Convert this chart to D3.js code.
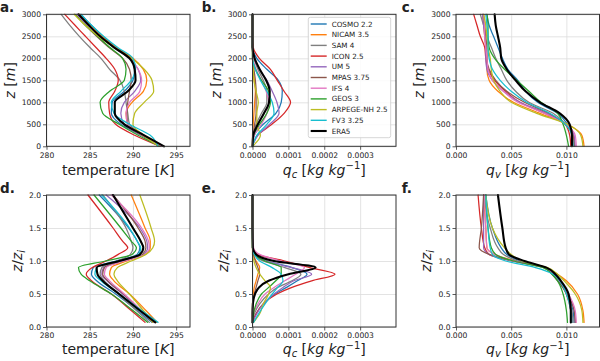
<!DOCTYPE html>
<html><head><meta charset="utf-8">
<script src="https://cdn.jsdelivr.net/npm/d3@7"></script>
<style>body{margin:0;background:#fff}svg{display:block}text{font-family:"DejaVu Sans",sans-serif;fill:#222}</style>
</head><body><svg id="c" width="600" height="361"></svg>
<script>
// ---------- data ----------
const models = ["COSMO 2.2","NICAM 3.5","SAM 4","ICON 2.5","UM 5","MPAS 3.75","IFS 4","GEOS 3","ARPEGE-NH 2.5","FV3 3.25","ERA5"];
const colors = ["#1f77b4","#ff7f0e","#7f7f7f","#d62728","#9467bd","#8c564b","#e377c2","#2ca02c","#bcbd22","#17becf","#000000"];

const zLevels = [0,250,500,750,1000,1250,1500,1750,2000,2250,2500,2750,3000];
const tempTicks = [280,285,290,295];
const qcTicks = [0,0.0001,0.0002,0.0003];
const qvTicks = [0,0.005,0.01];
const zTicks = [0,500,1000,1500,2000,2500,3000];
const ziTicks = [0,0.5,1,1.5,2];

// a. temperature [K] vs z [m]
const tempZ = [
 [293.5,291.0,288.6,287.5,287.6,289.0,290.0,290.2,289.8,288.0,286.5,285.2,284.0],
 [293.4,291.2,289.4,289.2,289.9,291.2,291.6,291.2,290.0,288.0,286.4,285.0,283.8],
 [293.0,291.3,289.6,289.4,289.2,289.0,288.5,287.3,286.3,285.0,283.8,282.7,281.7],
 [293.1,290.2,288.0,287.3,287.2,287.9,288.3,287.9,286.9,285.7,284.5,283.3,282.1],
 [293.2,291.0,289.0,288.6,289.0,290.2,290.9,290.6,289.6,287.8,286.2,284.8,283.5],
 [293.2,291.0,289.4,289.3,289.4,289.6,289.8,289.6,288.8,287.2,285.8,284.5,283.3],
 [293.3,291.1,289.4,289.2,289.6,290.8,291.0,290.6,289.6,287.8,286.2,284.9,283.6],
 [293.1,290.6,288.4,286.5,286.2,287.3,289.0,289.2,288.8,287.3,285.9,284.5,283.3],
 [293.0,291.2,290.0,290.2,291.3,292.4,292.2,291.3,289.8,287.8,286.0,284.5,283.2],
 [292.9,292.0,289.6,287.8,287.5,288.6,289.8,290.3,290.0,288.2,286.6,285.2,284.0],
 [293.6,291.3,289.0,287.9,287.9,289.4,290.3,290.2,289.6,287.8,286.2,284.9,283.7]
];
// b. qc [kg/kg] vs z [m]
const qcZ = [
 [0,0.5e-5,3e-5,6.5e-5,8e-5,8.3e-5,7.2e-5,4e-5,1.2e-5,0,0,0,0],
 [0,0,0.2e-5,0.4e-5,0.6e-5,0.8e-5,0.5e-5,0.2e-5,0,0,0,0,0],
 [0,0.2e-5,1e-5,2.5e-5,4e-5,4e-5,3e-5,1.5e-5,0.4e-5,0,0,0,0],
 [0,1.4e-5,5.4e-5,8.8e-5,10.6e-5,8.8e-5,6.9e-5,5e-5,1.9e-5,0.2e-5,0,0,0],
 [0,1.5e-5,4.8e-5,7.4e-5,6.8e-5,5.5e-5,4e-5,2e-5,0.5e-5,0,0,0,0],
 [0,0.2e-5,0.6e-5,1e-5,1e-5,1e-5,0.8e-5,0.4e-5,0.1e-5,0,0,0,0],
 [0,0.5e-5,2.5e-5,4e-5,4.5e-5,3.8e-5,2.5e-5,1e-5,0.2e-5,0,0,0,0],
 [0,0.3e-5,2e-5,4e-5,5e-5,4.5e-5,2.5e-5,0.8e-5,0,0,0,0,0],
 [0,2.2e-5,1.2e-5,1.2e-5,1.6e-5,1e-5,0.4e-5,0.2e-5,0,0,0,0,0],
 [0,1.2e-5,4e-5,6e-5,5.5e-5,4e-5,2.2e-5,0.8e-5,0,0,0,0,0],
 [0,0.2e-5,1.5e-5,3.2e-5,4.6e-5,4.8e-5,3.8e-5,2e-5,0.6e-5,0,0,0,0]
];
// c. qv [kg/kg] vs z [m]
const qvZ = [
 [0.0107,0.0106,0.0101,0.0092,0.0074,0.0063,0.0056,0.0047,0.0042,0.0038,0.0034,0.0030,0.0028],
 [0.0116,0.0114,0.0101,0.0076,0.0052,0.0038,0.0030,0.0028,0.0028,0.0027,0.0026,0.0025,0.0024],
 [0.0107,0.0106,0.0099,0.0088,0.0066,0.0054,0.0046,0.0041,0.0036,0.0032,0.0028,0.0025,0.0022],
 [0.0104,0.0103,0.0099,0.0080,0.0058,0.0045,0.0035,0.0029,0.0027,0.0026,0.0022,0.0019,0.0016],
 [0.0108,0.0107,0.0100,0.0082,0.0058,0.0043,0.0033,0.0028,0.0027,0.0027,0.0026,0.0025,0.0024],
 [0.0107,0.0106,0.0099,0.0084,0.0062,0.0046,0.0036,0.0030,0.0028,0.0028,0.0027,0.0026,0.0025],
 [0.0109,0.0108,0.0099,0.0080,0.0056,0.0043,0.0033,0.0029,0.0028,0.0027,0.0026,0.0026,0.0025],
 [0.0102,0.0100,0.0097,0.0092,0.0077,0.0066,0.0055,0.0044,0.0035,0.0030,0.0029,0.0029,0.0028],
 [0.0115,0.0113,0.0101,0.0073,0.0050,0.0040,0.0034,0.0032,0.0031,0.0029,0.0028,0.0027,0.0025],
 [0.0106,0.0105,0.0099,0.0085,0.0064,0.0050,0.0040,0.0033,0.0030,0.0029,0.0029,0.0028,0.0027],
 [0.0105,0.0105,0.0103,0.0094,0.0076,0.0063,0.0054,0.0046,0.0041,0.0040,0.0038,0.0036,0.0035]
];
// d. temperature vs z/zi
const ziLevelsD = [0.07,0.25,0.5,0.7,0.8,0.9,1.0,1.1,1.2,1.3,1.5,2.0];
const tempZi = [
 [292.2,290.5,288.0,285.8,285.2,285.4,288.0,290.5,290.8,290.5,289.5,286.1],
 [292.8,291.5,289.6,287.8,287.3,287.5,289.3,291.4,292.0,292.0,291.4,289.8],
 [291.9,290.4,288.3,286.7,286.2,286.4,288.2,289.7,290.0,289.8,289.2,286.5],
 [291.4,289.8,287.5,285.2,284.6,285.3,286.9,288.3,289.4,288.8,287.7,284.8],
 [292.3,290.9,288.8,287.0,286.4,286.6,288.8,291.2,291.7,291.6,290.8,286.9],
 [292.3,290.9,288.9,287.1,286.5,286.7,288.9,291.1,291.5,291.4,290.6,287.7],
 [292.4,291.0,289.0,287.3,286.7,286.9,289.0,291.4,291.9,291.8,291.0,287.5],
 [291.7,290.0,287.5,285.0,284.0,283.7,286.8,289.9,290.4,289.8,288.6,285.5],
 [292.3,291.2,289.6,288.2,287.8,288.2,289.8,291.5,292.3,292.5,292.1,290.8],
 [292.9,291.0,288.4,286.3,285.6,285.8,288.4,290.7,290.9,290.5,289.6,286.4],
 [292.6,290.8,288.4,286.5,285.9,285.8,288.4,290.8,291.2,290.9,290.0,287.7]
];
// e. qc vs z/zi
const ziLevelsE = [0.07,0.2,0.35,0.5,0.6,0.7,0.8,0.9,1.0,1.1,1.2,1.5,2.0];
const qcZi = [
 [0,1e-5,3e-5,6.3e-5,9.5e-5,12.5e-5,15.2e-5,11e-5,4e-5,0.8e-5,0.1e-5,0,0],
 [0,0,0,0.2e-5,0.5e-5,1e-5,1.5e-5,2e-5,1e-5,0.2e-5,0,0,0],
 [0,0.5e-5,2e-5,4.5e-5,7e-5,11e-5,13.5e-5,9e-5,3e-5,0.5e-5,0,0,0],
 [0,1e-5,3e-5,6.8e-5,11e-5,16.5e-5,23e-5,16e-5,9e-5,1.5e-5,0.2e-5,0,0],
 [0,1.2e-5,3e-5,6e-5,8.5e-5,11.5e-5,16.5e-5,11e-5,4e-5,0.8e-5,0.1e-5,0,0],
 [0,0,0.2e-5,0.5e-5,1e-5,1.5e-5,2e-5,1.5e-5,0.8e-5,0.2e-5,0,0,0],
 [0,0.3e-5,1.5e-5,3.5e-5,6e-5,9e-5,12e-5,14.5e-5,8e-5,2e-5,0.3e-5,0,0],
 [0,0.3e-5,1e-5,2.5e-5,4.5e-5,6.5e-5,8e-5,8e-5,3.5e-5,0.5e-5,0,0,0],
 [0.3e-5,2e-5,3e-5,4.5e-5,5e-5,3.5e-5,2e-5,1e-5,0.4e-5,0,0,0,0],
 [0.3e-5,1.7e-5,3.5e-5,5.5e-5,7e-5,8.5e-5,8e-5,5.5e-5,2e-5,0.5e-5,0,0,0],
 [0,0,0.1e-5,0.7e-5,1.8e-5,4.5e-5,10e-5,17.6e-5,6e-5,1e-5,0.1e-5,0,0]
];
// f. qv vs z/zi
const ziLevelsF = [0.07,0.25,0.5,0.7,0.8,0.9,1.0,1.1,1.2,1.5,2.0];
const qvZi = [
 [0.0107,0.0106,0.0101,0.0093,0.0088,0.0080,0.0058,0.0046,0.0041,0.0033,0.0027],
 [0.0116,0.0115,0.0110,0.0100,0.0092,0.0080,0.0054,0.0035,0.0028,0.0027,0.0025],
 [0.0106,0.0105,0.0100,0.0093,0.0088,0.0080,0.0056,0.0043,0.0038,0.0031,0.0025],
 [0.0105,0.0104,0.0100,0.0094,0.0089,0.0082,0.0052,0.0030,0.0026,0.0023,0.0020],
 [0.0108,0.0107,0.0101,0.0093,0.0088,0.0080,0.0050,0.0030,0.0025,0.0025,0.0025],
 [0.0108,0.0107,0.0101,0.0092,0.0087,0.0080,0.0052,0.0030,0.0021,0.0023,0.0025],
 [0.0109,0.0108,0.0102,0.0094,0.0089,0.0081,0.0052,0.0035,0.0028,0.0027,0.0026],
 [0.0101,0.0100,0.0097,0.0092,0.0087,0.0079,0.0052,0.0036,0.0032,0.0029,0.0027],
 [0.0115,0.0114,0.0108,0.0098,0.0092,0.0083,0.0060,0.0050,0.0044,0.0033,0.0027],
 [0.0105,0.0104,0.0100,0.0094,0.0088,0.0072,0.0045,0.0033,0.0031,0.0029,0.0027],
 [0.0104,0.0104,0.0102,0.0095,0.0090,0.0082,0.0062,0.0048,0.0045,0.0042,0.0038]
];

// ---------- layout ----------
const svg = d3.select("#c");
const W = 143.5, H = 132;
const colLeft = [46.5, 252.5, 456];
const rowTop = [14.3, 195];
const FS_TICK = 7.6, FS_LAB = 14;

const panels = [
 {letter:"a.", col:0,row:0, data:tempZ, lev:zLevels, xd:[280,296.6], xt:tempTicks, xf:d3.format("d"), yd:[0,3000], yt:zTicks, yf:d3.format("d"), xl:"T", yl:"z"},
 {letter:"b.", col:1,row:0, data:qcZ, lev:zLevels, xd:[0,0.0004], xt:qcTicks, xf:d3.format(".4f"), yd:[0,3000], yt:zTicks, yf:d3.format("d"), xl:"c", yl:"z", legend:true},
 {letter:"c.", col:2,row:0, data:qvZ, lev:zLevels, xd:[0,0.013], xt:qvTicks, xf:d3.format(".3f"), yd:[0,3000], yt:zTicks, yf:d3.format("d"), xl:"v", yl:"z"},
 {letter:"d.", col:0,row:1, data:tempZi, lev:ziLevelsD, xd:[280,296.6], xt:tempTicks, xf:d3.format("d"), yd:[0,2], yt:ziTicks, yf:d3.format(".1f"), xl:"T", yl:"zi"},
 {letter:"e.", col:1,row:1, data:qcZi, lev:ziLevelsE, xd:[0,0.0004], xt:qcTicks, xf:d3.format(".4f"), yd:[0,2], yt:ziTicks, yf:d3.format(".1f"), xl:"c", yl:"zi"},
 {letter:"f.", col:2,row:1, data:qvZi, lev:ziLevelsF, xd:[0,0.013], xt:qvTicks, xf:d3.format(".3f"), yd:[0,2], yt:ziTicks, yf:d3.format(".1f"), xl:"v", yl:"zi"}
];

function xLabel(g, x, y, kind){
  const t = g.append("text").attr("x",x).attr("y",y).attr("text-anchor","middle").attr("font-size",FS_LAB);
  if(kind==="T"){
    t.append("tspan").text("temperature [");
    t.append("tspan").attr("font-style","italic").text("K");
    t.append("tspan").text("]");
  } else {
    t.append("tspan").attr("font-style","italic").text("q");
    t.append("tspan").attr("font-style","italic").attr("font-size",10).attr("dy",3).text(kind);
    t.append("tspan").attr("dy",-3).text(" [");
    t.append("tspan").attr("font-style","italic").text("kg kg");
    t.append("tspan").attr("font-size",10).attr("dy",-5.5).text("\u22121");
    t.append("tspan").attr("dy",5.5).text("]");
  }
}
function yLabel(g, x, y, kind){
  const t = g.append("text").attr("transform",`translate(${x},${y}) rotate(-90)`).attr("text-anchor","middle").attr("font-size",FS_LAB);
  if(kind==="z"){
    t.append("tspan").attr("font-style","italic").text("z");
    t.append("tspan").text(" [");
    t.append("tspan").attr("font-style","italic").text("m");
    t.append("tspan").text("]");
  } else {
    t.append("tspan").attr("font-style","italic").text("z");
    t.append("tspan").text("/");
    t.append("tspan").attr("font-style","italic").text("z");
    t.append("tspan").attr("font-style","italic").attr("font-size",10).attr("dy",3).text("i");
  }
}

panels.forEach(p => {
  const L = colLeft[p.col], T = rowTop[p.row];
  const x = d3.scaleLinear().domain(p.xd).range([L, L+W]);
  const y = d3.scaleLinear().domain(p.yd).range([T+H, T]);
  const g = svg.append("g");

  // grid
  g.append("g").attr("transform",`translate(0,${T+H})`)
    .call(d3.axisBottom(x).tickValues(p.xt).tickSize(-H).tickFormat(""))
    .call(a=>{a.select(".domain").remove(); a.selectAll("line").attr("stroke","#dcdcdc").attr("stroke-width",0.8);});
  g.append("g").attr("transform",`translate(${L},0)`)
    .call(d3.axisLeft(y).tickValues(p.yt).tickSize(-W).tickFormat(""))
    .call(a=>{a.select(".domain").remove(); a.selectAll("line").attr("stroke","#dcdcdc").attr("stroke-width",0.8);});

  // lines
  const line = d3.line().x(d=>x(d.v)).y(d=>y(d.z)).curve(d3.curveMonotoneY);
  p.data.forEach((vals,i)=>{
    const pts = vals.map((v,k)=>({v, z:p.lev[k]})).sort((a,b)=>b.z-a.z);
    g.append("path").datum(pts).attr("d",line).attr("fill","none")
      .attr("stroke",colors[i]).attr("stroke-width", i===10?2.1:1.25)
      .attr("stroke-linejoin","round").attr("stroke-linecap","round");
  });

  // frame
  g.append("rect").attr("x",L).attr("y",T).attr("width",W).attr("height",H)
    .attr("fill","none").attr("stroke","#333").attr("stroke-width",1);

  // axes
  const ax = g.append("g").attr("transform",`translate(0,${T+H})`)
    .call(d3.axisBottom(x).tickValues(p.xt).tickFormat(p.xf).tickSize(3.5).tickPadding(2.5));
  const ay = g.append("g").attr("transform",`translate(${L},0)`)
    .call(d3.axisLeft(y).tickValues(p.yt).tickFormat(p.yf).tickSize(3.5).tickPadding(2));
  [ax,ay].forEach(a=>{
    a.select(".domain").remove();
    a.selectAll("line").attr("stroke","#333").attr("stroke-width",0.8);
    a.selectAll("text").attr("font-size",FS_TICK).attr("font-family",'"DejaVu Sans",sans-serif').attr("fill","#222");
  });

  // labels
  xLabel(g, L+W/2, p.row===0?174.5:354, p.xl);
  if(p.yl==="z") yLabel(g, L-32, T+H/2, "z");
  else yLabel(g, L-25, T+H/2, "zi");
  g.append("text").attr("x", L - (p.col===0?46.5:(p.col===1?50.8:54.3))).attr("y", p.row===0?11.8:192.7)
    .attr("font-size",13.5).attr("font-weight","bold").text(p.letter);

  // legend
  if(p.legend){
    const lx = 308.3, ly = 17.3, lw = 82.4, lh = 120.4;
    const lg = g.append("g");
    lg.append("rect").attr("x",lx).attr("y",ly).attr("width",lw).attr("height",lh).attr("rx",2)
      .attr("fill","#fff").attr("fill-opacity",0.85).attr("stroke","#cccccc").attr("stroke-width",0.8);
    models.forEach((m,i)=>{
      const yy = 24 + i*10.7;
      lg.append("line").attr("x1",310.7).attr("x2",326.7).attr("y1",yy).attr("y2",yy)
        .attr("stroke",colors[i]).attr("stroke-width", i===10?2.1:1.4);
      lg.append("text").attr("x",331.7).attr("y",yy).attr("dy","0.35em").attr("font-size",7.2).text(m);
    });
  }
});
</script></body></html>
